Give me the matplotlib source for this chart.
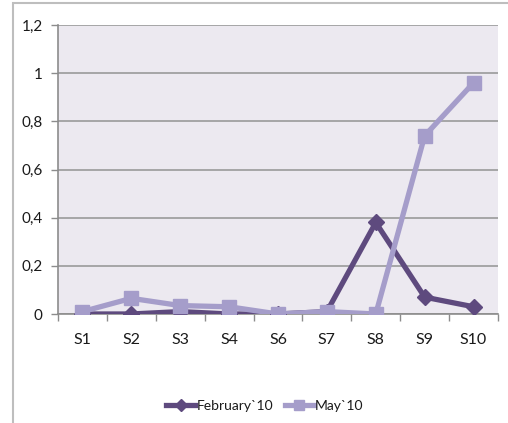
import numpy as np
import matplotlib.pyplot as plt
from matplotlib.patches import Rectangle

plt.rcParams['font.family'] = ['Lato', 'DejaVu Sans']

# Sample sites and measured values
sites = ['S1', 'S2', 'S3', 'S4', 'S6', 'S7', 'S8', 'S9', 'S10']
february = [0.0, 0.0, 0.01, 0.0, 0.0, 0.01, 0.38, 0.07, 0.03]
may = [0.01, 0.065, 0.035, 0.03, 0.0, 0.01, 0.0, 0.74, 0.96]

feb_color = '#5E4A7E'
may_color = '#A59DCA'

fig = plt.figure(figsize=(5.08, 4.23), dpi=100)
ax = fig.add_axes([58 / 508, 1 - 314 / 423, 440 / 508, 289 / 423])

# outer chart border (left and top edges visible)
fig.add_artist(Rectangle((13 / 508, -0.2), 1.2, 1 - 3 / 423 + 0.2,
                         transform=fig.transFigure, fill=False,
                         edgecolor='#BEBEBE', linewidth=1.5))

ax.set_facecolor('#ECE9F0')
x = np.arange(len(sites))

ax.plot(x, february, color=feb_color, linewidth=3.8, marker='D',
        markersize=8.5, label='February`10', zorder=3)
ax.plot(x, may, color=may_color, linewidth=3.8, marker='s',
        markersize=10, label='May`10', zorder=4)

ax.set_xlim(-0.5, len(sites) - 0.5)
ax.set_ylim(0, 1.2)
yt = np.arange(0, 1.21, 0.2)
ax.set_yticks(yt)
ax.set_yticklabels(['0', '0,2', '0,4', '0,6', '0,8', '1', '1,2'])
ax.yaxis.grid(True, color='#9A9A9A', linewidth=1.2)
ax.set_axisbelow(True)

ax.set_xticks(x)
ax.set_xticklabels(sites)
ax.set_xticks(np.arange(-0.5, len(sites)), minor=True)
ax.tick_params(axis='x', which='major', length=0, pad=14, labelsize=11.5,
               labelcolor='#1A1A1A')
ax.tick_params(axis='x', which='minor', length=5, color='#8C8C8C', width=1)
ax.tick_params(axis='y', length=5, color='#8C8C8C', width=1, labelsize=11,
               labelcolor='#1A1A1A', pad=6)

for side in ['top', 'right']:
    ax.spines[side].set_visible(False)
ax.spines['left'].set_color('#8C8C8C')
ax.spines['bottom'].set_color('#8C8C8C')
ax.spines['left'].set_linewidth(1.2)
ax.spines['bottom'].set_linewidth(1.2)

fig.legend(loc='center', bbox_to_anchor=(265 / 508, 1 - 406 / 423), ncol=2,
           frameon=False, fontsize=10, handlelength=2.1, handletextpad=0.1,
           columnspacing=0.8, markerscale=0.75, labelcolor='#1A1A1A')

fig.savefig('out.png', dpi=100)
